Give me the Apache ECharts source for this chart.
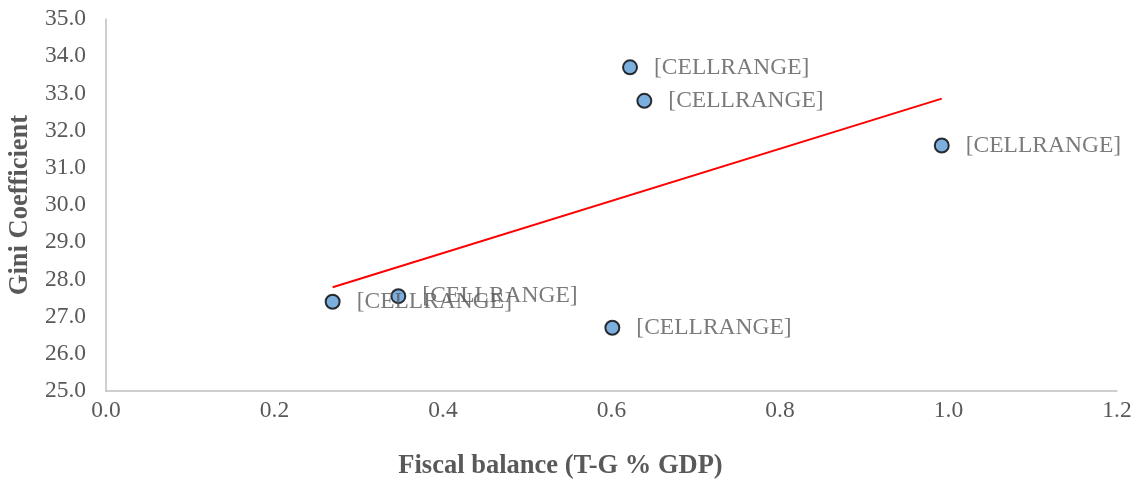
<!DOCTYPE html>
<html>
<head>
<meta charset="utf-8">
<script src="https://cdn.jsdelivr.net/npm/echarts@6/dist/echarts.min.js"></script>
<style>
  html, body { margin: 0; padding: 0; background: #fff; }
  #chart { width: 1134px; height: 481px; }
</style>
</head>
<body>
<div id="chart"></div>
<script>
// 数据
const fiscalBalance = [0.269, 0.347, 0.601, 0.622, 0.639, 0.992]
const giniCoefficient = [27.4, 27.55, 26.7, 33.7, 32.8, 31.6]
const pointLabels = ['[CELLRANGE]', '[CELLRANGE]', '[CELLRANGE]', '[CELLRANGE]', '[CELLRANGE]', '[CELLRANGE]']

// 线性趋势线（最小二乘）
const n = fiscalBalance.length
const mx = fiscalBalance.reduce((a, b) => a + b, 0) / n
const my = giniCoefficient.reduce((a, b) => a + b, 0) / n
let sxy = 0, sxx = 0
fiscalBalance.forEach((x, i) => {
  sxy += (x - mx) * (giniCoefficient[i] - my)
  sxx += (x - mx) * (x - mx)
})
const slope = sxy / sxx
const intercept = my - slope * mx
const xMin = Math.min(...fiscalBalance)
const xMax = Math.max(...fiscalBalance)
const trend = [[xMin, intercept + slope * xMin], [xMax, intercept + slope * xMax]]

const font = '"Liberation Serif", "Times New Roman", serif'
const grey = '#595959'

const chart = echarts.init(document.getElementById('chart'))
chart.setOption({
  animation: false,
  grid: { left: 106, right: 17, top: 19, bottom: 90, outerBoundsMode: 'none' },
  xAxis: {
    type: 'value',
    min: 0,
    max: 1.2,
    interval: 0.2,
    name: 'Fiscal balance (T-G % GDP)',
    nameLocation: 'middle',
    nameGap: 62,
    nameTextStyle: {
      fontFamily: font, fontSize: 26.5, fontWeight: 'bold', color: grey,
      padding: [0, 102, 0, 0]
    },
    axisLine: { show: true, lineStyle: { color: '#bfbfbf', width: 1.5 } },
    axisTick: { show: false },
    splitLine: { show: false },
    axisLabel: {
      fontFamily: font, fontSize: 23.5, color: grey, margin: 8,
      formatter: (v) => v.toFixed(1)
    }
  },
  yAxis: {
    type: 'value',
    min: 25,
    max: 35,
    interval: 1,
    name: 'Gini Coefficient',
    nameLocation: 'middle',
    nameGap: 70,
    nameTextStyle: { fontFamily: font, fontSize: 26.5, fontWeight: 'bold', color: grey },
    axisLine: { show: true, lineStyle: { color: '#bfbfbf', width: 1.5 } },
    axisTick: { show: false },
    splitLine: { show: false },
    axisLabel: {
      fontFamily: font, fontSize: 23.5, color: grey, margin: 20,
      formatter: (v) => v.toFixed(1)
    }
  },
  series: [
    {
      type: 'line',
      data: trend,
      symbol: 'none',
      lineStyle: { color: '#ff0000', width: 2 },
      z: 1
    },
    {
      type: 'scatter',
      data: fiscalBalance.map((x, i) => ({ value: [x, giniCoefficient[i]], name: pointLabels[i] })),
      symbolSize: 14,
      itemStyle: { color: '#5b9bd5', borderColor: '#000', borderWidth: 2 },
      label: {
        show: true,
        position: 'right',
        distance: 16,
        formatter: (p) => p.name,
        fontFamily: font,
        fontSize: 23.5,
        color: grey
      },
      z: 3
    }
  ]
})
</script>
</body>
</html>
